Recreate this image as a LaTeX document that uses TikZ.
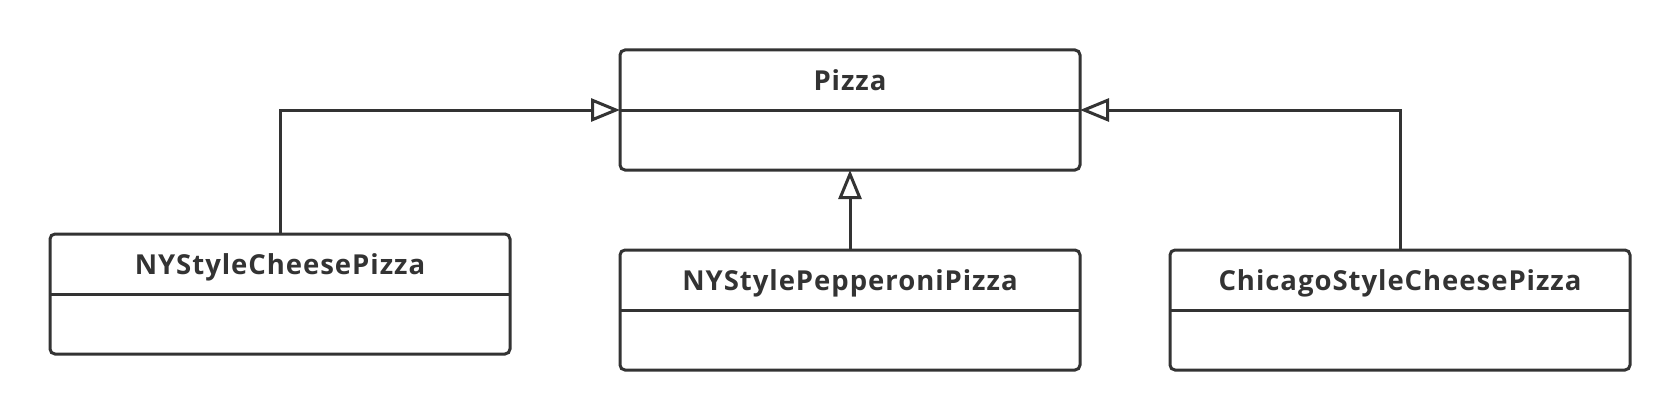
\documentclass[tikz,border=0pt]{standalone}
\usepackage{fontspec}
\setmainfont{Open Sans}[LetterSpace=3.5]
\usetikzlibrary{arrows.meta,calc}
\definecolor{ink}{HTML}{333333}
\tikzset{
  classbox/.style={draw=ink, line width=3pt, rounded corners=5pt, minimum width=460pt, minimum height=120pt, inner sep=0pt, outer sep=0pt},
  classname/.style={text=ink, font=\fontsize{27.5}{32}\selectfont\bfseries, inner sep=0pt, anchor=base},
  divider/.style={draw=ink, line width=3pt},
  inh/.style={draw=ink, line width=3pt, -{Triangle[open, length=29pt, width=23pt, fill=white]}}
}
\begin{document}
\begin{tikzpicture}[x=1pt,y=-1pt]
\useasboundingbox (0,0) rectangle (1680,420);
% classes
\node[classbox] (pizza) at (850,110) {};
\node[classname] (pizzaT) at ($(pizza.north)+(0,40)$) {Pizza};
\draw[divider] (pizza.west) -- (pizza.east);

\node[classbox] (nyc) at (280,294) {};
\node[classname] (nycT) at ($(nyc.north)+(0,40)$) {NYStyleCheesePizza};
\draw[divider] (nyc.west) -- (nyc.east);

\node[classbox] (pep) at (850,310) {};
\node[classname] (pepT) at ($(pep.north)+(0,40)$) {NYStylePepperoniPizza};
\draw[divider] (pep.west) -- (pep.east);

\node[classbox] (chi) at (1400,310) {};
\node[classname] (chiT) at ($(chi.north)+(0,40)$) {ChicagoStyleCheesePizza};
\draw[divider] (chi.west) -- (chi.east);

% inheritance
\draw[inh] (nyc.north) |- (pizza.west);
\draw[inh] (pep.north) -- (pizza.south);
\draw[inh] (chi.north) |- (pizza.east);
\end{tikzpicture}
\end{document}
